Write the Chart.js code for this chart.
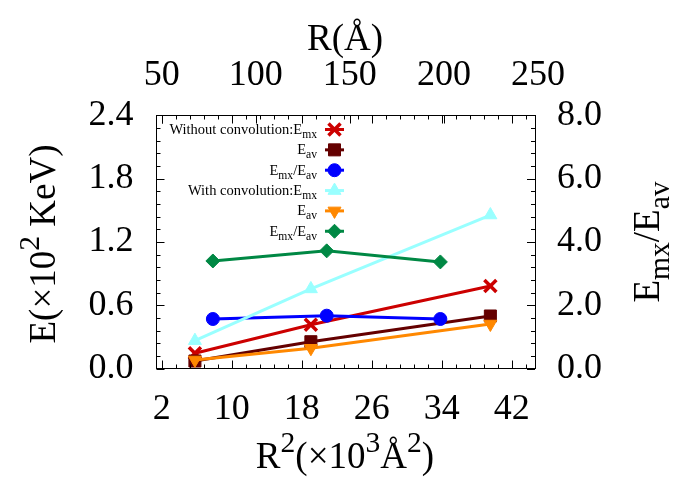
<!DOCTYPE html>
<html>
<head>
<meta charset="utf-8">
<script src="https://cdn.jsdelivr.net/npm/chart.js@4/dist/chart.umd.min.js"></script>
<style>
  html, body { margin: 0; padding: 0; background: #fff; }
</style>
</head>
<body>
<canvas id="chart" width="692" height="485"></canvas>
<script>
// values
const r2Vals = [5.8, 19.05, 39.56];        // R^2 (x10^3 Å^2), bottom axis
const rVals = [77.2, 137.7, 198.1];        // R (Å), top axis
const emxNoConv = [0.144, 0.415, 0.783];
const eavNoConv = [0.071, 0.254, 0.498];
const ratioNoConv = [1.565, 1.67, 1.565];
const emxConv = [0.264, 0.755, 1.456];
const eavConv = [0.081, 0.192, 0.422];
const ratioConv = [3.40, 3.72, 3.37];

const xTicks = [2, 10, 18, 26, 34, 42];
const x2Ticks = [50, 100, 150, 200, 250];
const yTicks = [0, 0.6, 1.2, 1.8, 2.4];
const y2Ticks = [0, 2, 4, 6, 8];

const SERIF = 'Liberation Serif';
Chart.defaults.font.family = SERIF;
Chart.defaults.color = '#000';

function pts(xs, ys) {
  return xs.map((x, i) => ({ x: x, y: ys[i] }));
}

// text with sub/superscripts: runs = [[text, 0 normal | 1 sub | 2 sup], ...]
function drawRuns(ctx, runs, x, y, size, align) {
  const fs = k => (k ? size * 0.8 : size);
  let w = 0;
  runs.forEach(([t, k]) => {
    ctx.font = fs(k) + 'px ' + SERIF;
    w += ctx.measureText(t).width;
  });
  let cx = align === 'right' ? x - w : align === 'center' ? x - w / 2 : x;
  ctx.textAlign = 'left';
  ctx.textBaseline = 'alphabetic';
  runs.forEach(([t, k]) => {
    ctx.font = fs(k) + 'px ' + SERIF;
    const dy = k === 1 ? size * 0.28 : k === 2 ? -size * 0.42 : 0;
    ctx.fillText(t, cx, y + dy);
    cx += ctx.measureText(t).width;
  });
}

const legendRuns = [
  [['Without convolution:E', 0], ['mx', 1]],
  [['E', 0], ['av', 1]],
  [['E', 0], ['mx', 1], ['/E', 0], ['av', 1]],
  [['With convolution:E', 0], ['mx', 1]],
  [['E', 0], ['av', 1]],
  [['E', 0], ['mx', 1], ['/E', 0], ['av', 1]]
];

// gnuplot look: inward tics, titles, key
const decor = {
  id: 'decor',
  afterDraw(chart) {
    const ctx = chart.ctx;
    const a = chart.chartArea;
    const s = chart.scales;
    ctx.save();
    ctx.strokeStyle = '#000';
    ctx.lineWidth = 1;

    function vTicks(scale, majors, step, x0, dir) {
      for (let v = majors[0]; v <= scale.max + 1e-9; v += step) {
        const y = Math.round(scale.getPixelForValue(v)) + 0.5;
        const major = majors.some(m => Math.abs(m - v) < 1e-6);
        ctx.beginPath();
        ctx.moveTo(x0, y);
        ctx.lineTo(x0 + dir * (major ? 8 : 4), y);
        ctx.stroke();
      }
    }
    function hTicks(scale, majors, step, y0, dir) {
      let v = majors[0];
      while (v - step >= scale.min) v -= step;
      for (; v <= scale.max + 1e-9; v += step) {
        const x = Math.round(scale.getPixelForValue(v)) + 0.5;
        const major = majors.some(m => Math.abs(m - v) < 1e-6);
        ctx.beginPath();
        ctx.moveTo(x, y0);
        ctx.lineTo(x, y0 + dir * (major ? 8 : 4));
        ctx.stroke();
      }
    }
    vTicks(s.y, yTicks, 0.12, a.left, 1);
    vTicks(s.y2, y2Ticks, 0.4, a.right, -1);
    hTicks(s.x, xTicks, 1.6, a.bottom, -1);
    hTicks(s.x, xTicks, 1.6, a.top, 1);
    hTicks(s.x2, x2Ticks.filter(v => v <= s.x2.max), 50, a.top, 1);

    // axis titles
    ctx.fillStyle = '#000';
    drawRuns(ctx, [['R(Å)', 0]], 345, 50, 37, 'center');
    drawRuns(ctx, [['R', 0], ['2', 2], ['(×10', 0], ['3', 2], ['Å', 0], ['2', 2], [')', 0]], 345, 468, 37, 'center');
    ctx.save();
    ctx.translate(55, 244);
    ctx.rotate(-Math.PI / 2);
    drawRuns(ctx, [['E(×10', 0], ['2', 2], [' KeV)', 0]], 0, 0, 37, 'center');
    ctx.restore();
    ctx.save();
    ctx.translate(659, 242);
    ctx.rotate(-Math.PI / 2);
    drawRuns(ctx, [['E', 0], ['mx', 1], ['/E', 0], ['av', 1]], 0, 0, 37, 'center');
    ctx.restore();

    // key
    chart.data.datasets.forEach((ds, i) => {
      const yc = 129.5 + i * 20.35;
      ctx.fillStyle = '#000';
      drawRuns(ctx, legendRuns[i], 317, yc + 4.5, 14.5, 'right');
      ctx.strokeStyle = ds.borderColor;
      ctx.lineWidth = ds.borderWidth;
      ctx.beginPath();
      ctx.moveTo(325, yc);
      ctx.lineTo(344, yc);
      ctx.stroke();
      ctx.fillStyle = ds.pointBackgroundColor;
      ctx.strokeStyle = ds.pointBorderColor;
      ctx.lineWidth = ds.pointBorderWidth;
      Chart.helpers.drawPoint(ctx, {
        pointStyle: ds.pointStyle,
        radius: ds.pointRadius,
        rotation: ds.pointRotation || 0,
        borderWidth: ds.pointBorderWidth
      }, 334.5, yc);
    });
    ctx.restore();
  }
};

function series(data, color, style, radius, xAxis, yAxis, order, extra) {
  return Object.assign({
    data: data,
    xAxisID: xAxis,
    yAxisID: yAxis,
    borderColor: color,
    backgroundColor: color,
    borderWidth: 3,
    pointStyle: style,
    pointRadius: radius,
    pointHoverRadius: radius,
    pointBackgroundColor: color,
    pointBorderColor: color,
    pointBorderWidth: 1,
    tension: 0,
    fill: false,
    order: order
  }, extra || {});
}

function axis(position, min, max, tickVals, fmt, padding, size) {
  const horiz = position === 'top' || position === 'bottom';
  return {
    type: 'linear',
    position: position,
    min: min,
    max: max,
    afterBuildTicks: sc => { sc.ticks = tickVals.map(v => ({ value: v })); },
    afterFit: sc => { if (horiz) sc.height = size; else sc.width = size; },
    ticks: {
      font: { family: SERIF, size: 36 },
      color: '#000',
      padding: padding,
      autoSkip: false,
      maxRotation: 0,
      callback: fmt
    },
    grid: { display: false, drawTicks: false },
    border: { display: true, color: '#000', width: 1 }
  };
}

new Chart(document.getElementById('chart'), {
  type: 'line',
  data: {
    datasets: [
      series(pts(r2Vals, emxNoConv), '#cc0000', 'crossRot', 8.5, 'x', 'y', 6, { pointBorderWidth: 3.5 }),
      series(pts(r2Vals, eavNoConv), '#640000', 'rect', 8.5, 'x', 'y', 5),
      series(pts(rVals, ratioNoConv), '#0000ff', 'circle', 6.5, 'x2', 'y2', 4),
      series(pts(r2Vals, emxConv), '#99ffff', 'triangle', 7.5, 'x', 'y', 3),
      series(pts(r2Vals, eavConv), '#ff8800', 'triangle', 7.5, 'x', 'y', 2, { pointRotation: 180 }),
      series(pts(rVals, ratioConv), '#008844', 'rectRot', 7, 'x2', 'y2', 1)
    ]
  },
  options: {
    responsive: false,
    animation: false,
    layout: { padding: 0 },
    plugins: { legend: { display: false }, tooltip: { enabled: false } },
    scales: {
      x: axis('bottom', 1.41, 44.66, xTicks, v => String(v), 19, 116.5),
      x2: axis('top', 47.24, 248.4, x2Ticks, v => String(v), 18, 115.5),
      y: axis('left', 0, 2.4, yTicks, v => v.toFixed(1), 23, 156.5),
      y2: axis('right', 0, 8, y2Ticks, v => v.toFixed(1), 22, 157)
    }
  },
  plugins: [decor]
});
</script>
</body>
</html>
